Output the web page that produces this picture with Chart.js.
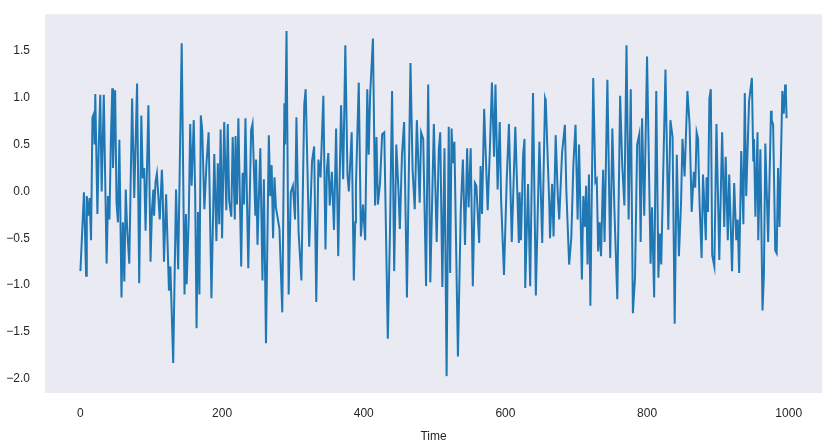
<!DOCTYPE html>
<html><head><meta charset="utf-8">
<script src="https://cdn.jsdelivr.net/npm/chart.js@4"></script>
<style>html,body{margin:0;padding:0;background:#fff}#w{width:832px;height:448px}</style>
</head><body><div id="w"><canvas id="c"></canvas></div>
<script>
const times = [0,5,8,9,11,13,15,17,19,20,21,24,26,28,30,33,37,39,41,43,45,46,49,51,53,55,58,60,62,64,66,69,73,76,80,83,86,88,90,92,96,99,101,103,104,106,108,112,115,116,118,121,125,127,131,135,138,143,147,149,150,153,155,157,160,162,164,166,168,170,172,175,178,181,185,189,192,194,196,198,200,203,206,208,210,213,215,218,219,221,223,227,229,231,233,237,241,243,247,248,250,254,257,259,262,266,268,270,272,274,276,281,285,288,289,291,294,297,300,303,305,308,312,316,318,323,327,330,333,336,339,343,346,348,350,352,355,358,361,364,368,371,374,377,379,383,386,388,389,393,396,399,402,405,407,409,413,416,418,420,423,426,429,434,437,440,443,446,449,451,454,457,461,466,469,472,475,479,481,484,488,491,494,499,503,506,508,511,514,517,520,522,524,526,528,533,537,540,543,546,548,551,554,557,559,563,565,567,570,572,575,578,581,584,586,589,592,594,598,602,605,609,614,619,620,622,625,627,628,632,635,639,643,648,652,656,657,662,663,666,668,671,674,676,680,684,686,690,693,696,699,702,704,708,710,712,714,716,718,720,724,727,729,731,733,735,738,740,744,748,751,754,758,762,765,768,771,774,777,780,783,786,789,791,793,796,800,805,807,810,813,816,818,820,826,830,833,836,839,842,845,848,850,853,857,860,863,866,868,870,872,874,877,879,883,884,886,888,890,892,895,898,902,906,909,911,914,916,920,923,926,928,930,933,936,938,940,944,948,950,951,953,956,957,960,963,965,967,971,975,976,978,981,983,985,987,991,993,995,996,997];
const values = [-0.85,-0.01,-0.9,-0.05,-0.26,-0.07,-0.52,0.79,0.83,0.5,1.04,-0.24,0.51,1.03,0.0,1.03,-0.77,-0.05,-0.3,0.55,1.1,0.25,1.08,-0.12,-0.33,0.55,-1.13,-0.33,-0.96,0.02,-0.4,-0.77,0.99,-0.07,1.15,-0.98,0.81,0.14,0.25,-0.42,0.92,-0.75,-0.2,0.02,-0.26,0.1,0.19,-0.3,0.23,0.05,-0.75,-0.03,-1.06,-0.8,-1.83,0.02,-0.83,1.58,-1.1,-0.24,-0.99,-0.26,0.72,0.06,0.76,-0.01,-1.46,-0.22,-1.1,0.81,0.65,-0.19,0.3,0.63,-1.14,0.4,-0.53,0.3,-0.35,0.66,-0.5,0.74,-0.2,0.72,-0.1,-0.27,0.58,-0.3,0.59,-0.14,0.78,-0.8,0.2,-0.14,0.78,-0.82,0.65,0.72,-0.26,0.34,-0.57,0.46,-0.95,0.13,-1.62,0.6,-0.05,0.28,-0.5,0.15,-0.17,-0.4,-1.29,0.94,0.5,1.71,-1.1,-0.01,0.06,-0.3,0.79,-0.43,-0.95,0.92,1.09,-0.59,0.32,0.48,-1.18,0.34,0.15,1.02,-0.62,0.23,0.41,-0.15,0.21,-0.41,0.67,-0.69,0.92,0.13,1.56,0.18,0.0,0.63,-0.95,-0.33,0.06,1.16,-0.48,-0.14,-0.52,1.09,0.39,1.02,1.63,-0.15,0.58,-0.14,0.09,0.61,0.63,-1.57,-0.45,1.07,-0.85,0.5,0.02,-0.4,0.39,0.74,-1.13,1.37,0.23,-0.19,0.76,-0.12,0.63,0.56,-1.01,1.14,-0.97,0.72,-0.54,0.45,0.63,-1.02,0.46,-1.97,0.69,-0.87,0.67,0.3,0.53,-1.76,-0.2,0.34,-0.57,0.46,-0.17,0.46,-1.01,0.09,0.06,-0.55,0.27,-0.24,0.88,0.45,-0.2,0.43,1.16,0.37,1.14,0.02,0.74,-0.1,-0.89,0.15,0.72,-0.54,0.69,-0.55,-0.01,-0.52,0.39,0.56,-1.03,0.08,-1.01,1.05,-1.11,0.53,-0.55,0.99,0.96,-0.14,-0.5,0.08,-0.48,0.6,-0.05,-0.3,0.41,0.71,0.02,-0.78,-0.5,0.29,0.71,-0.3,0.5,-0.94,-0.05,-0.38,0.06,-0.78,0.18,-1.22,1.21,0.1,0.13,-0.64,-0.33,-0.69,0.23,-0.54,1.19,-0.71,0.67,-0.22,-1.15,1.02,0.27,-0.15,1.56,-0.3,1.09,-1.3,-0.92,0.5,0.61,-0.54,0.78,-0.26,1.44,-0.77,-0.17,-1.13,1.07,-0.92,-0.45,-0.78,1.3,-0.41,0.76,0.58,-1.41,0.39,-0.69,-0.12,0.56,0.16,1.07,0.72,-0.22,0.21,0.04,0.63,0.56,-0.1,-0.71,0.18,-0.52,0.15,-0.22,0.99,1.09,-0.68,-0.8,0.72,-0.73,0.63,-0.38,0.37,-0.52,0.18,-0.85,0.09,-0.52,-0.3,-0.87,0.43,-0.35,1.05,-0.05,0.96,1.21,0.32,0.56,-0.27,0.63,-0.52,0.45,-1.27,-0.89,0.51,-0.54,0.86,0.76,0.71,-0.63,-0.66,0.25,-0.38,1.07,0.83,1.14,1.05,0.78];
const xTicks = [0,200,400,600,800,1000];
const yTicks = [-2.0,-1.5,-1.0,-0.5,0.0,0.5,1.0,1.5];
const pts = times.map((t,i)=>({x:t,y:values[i]}));
const bg = {id:'bg',beforeDraw(ch){const a=ch.chartArea,c=ch.ctx;c.save();c.fillStyle='#EAEAF2';c.fillRect(a.left,a.top,a.right-a.left,a.bottom-a.top);c.restore();}};
new Chart(document.getElementById('c'),{
 type:'scatter',
 data:{datasets:[{data:pts,showLine:true,borderColor:'#1f77b4',borderWidth:2,pointRadius:0,tension:0}]},
 options:{responsive:true,maintainAspectRatio:false,animation:false,
  layout:{padding:{top:9,right:10,left:0,bottom:0}},
  plugins:{legend:{display:false},tooltip:{enabled:false}},
  scales:{
   x:{type:'linear',min:-50,max:1047,grid:{display:false},border:{display:false},
      afterBuildTicks:s=>{s.ticks=xTicks.map(v=>({value:v}));},
      afterFit:s=>{s.height=55;},
      ticks:{color:'#262626',font:{family:'Liberation Sans',size:12},padding:5,callback:v=>String(v)},
      title:{display:true,text:'Time',color:'#262626',font:{family:'Liberation Sans',size:12},padding:{top:0}}},
   y:{min:-2.15,max:1.89,grid:{display:false},border:{display:false},
      afterBuildTicks:s=>{s.ticks=yTicks.map(v=>({value:v}));},
      afterFit:s=>{s.width=45;},
      ticks:{color:'#262626',font:{family:'Liberation Sans',size:12},padding:7,callback:v=>v.toFixed(1).replace('-','\u2212')}}
  }}
 ,plugins:[bg]});
</script></body></html>
